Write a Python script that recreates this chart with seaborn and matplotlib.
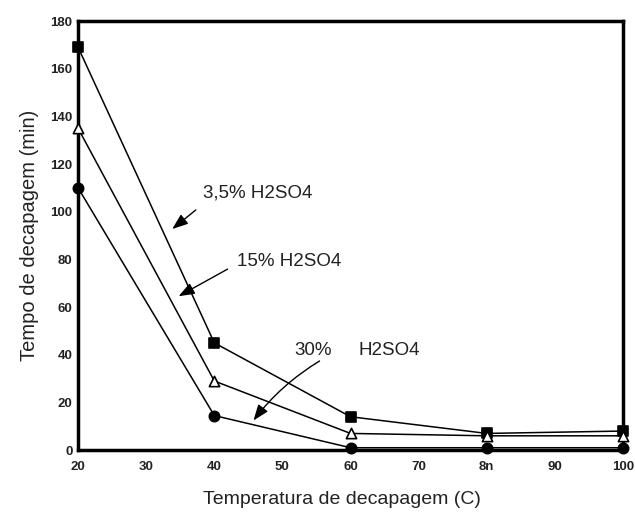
import matplotlib
matplotlib.use("Agg")
import matplotlib.pyplot as plt
import seaborn as sns
import pandas as pd

# data
temperatures = [20, 40, 60, 80, 100]
tempo_35 = [169, 45, 14, 7, 8]
tempo_15 = [135, 29, 7, 6, 6]
tempo_30 = [110, 14.5, 1, 1, 1]
series_names = ["3,5% H2SO4", "15% H2SO4", "30% H2SO4"]

x_ticks = [20, 30, 40, 50, 60, 70, 80, 90, 100]
x_tick_labels = ["20", "30", "40", "50", "60", "70", "8n", "90", "100"]
y_ticks = [0, 20, 40, 60, 80, 100, 120, 140, 160, 180]

df = pd.DataFrame({
    "temperatura": temperatures * 3,
    "tempo": tempo_35 + tempo_15 + tempo_30,
    "serie": [s for s in series_names for _ in temperatures],
})

sns.set_style("white")
plt.rcParams["font.family"] = ["Liberation Sans", "DejaVu Sans"]
txt_color = "#222222"

fig = plt.figure(figsize=(6.35, 5.15), dpi=100)
ax = fig.add_axes([0.123, 0.126, 0.858, 0.833])

markers = {"3,5% H2SO4": "s", "15% H2SO4": "^", "30% H2SO4": "o"}
for name in series_names:
    sub = df[df["serie"] == name]
    sns.lineplot(data=sub, x="temperatura", y="tempo", color="black",
                 linewidth=1.1, ax=ax, legend=False)
    face = "white" if markers[name] == "^" else "black"
    ax.scatter(sub["temperatura"], sub["tempo"], marker=markers[name],
               s=55, facecolor=face, edgecolor="black", linewidth=1.2,
               zorder=5, clip_on=False)

ax.set_xlim(20, 100)
ax.set_ylim(0, 180)
ax.set_xticks(x_ticks)
ax.set_xticklabels(x_tick_labels)
ax.set_yticks(y_ticks)
ax.tick_params(axis="both", labelsize=9.5, direction="in", length=5,
               width=1.2, color="black", labelcolor=txt_color)
ax.tick_params(axis="x", length=0, pad=8)
ax.tick_params(axis="y", pad=4)
for lab in ax.get_xticklabels() + ax.get_yticklabels():
    lab.set_fontweight("bold")

for sp in ax.spines.values():
    sp.set_visible(True)
    sp.set_color("black")
    sp.set_linewidth(2.5)

ax.set_xlabel("Temperatura de decapagem (C)", fontsize=14, labelpad=12,
              color=txt_color)
ax.xaxis.set_label_coords(0.485, -0.095)
ax.set_ylabel("Tempo de decapagem (min)", fontsize=14.5, labelpad=8,
              color=txt_color)

arrow = dict(arrowstyle="-|>,head_length=0.8,head_width=0.3", color="black",
             lw=1.0, mutation_scale=12)
ax.annotate("", xy=(33.5, 92), xytext=(37.6, 101.5), arrowprops=arrow)
ax.text(38.4, 108, "3,5% H2SO4", fontsize=13.5, va="center", ha="left",
        color=txt_color)

ax.annotate("", xy=(34.4, 64), xytext=(42.3, 76.5), arrowprops=arrow)
ax.text(43.3, 79, "15% H2SO4", fontsize=13.5, va="center", ha="left",
        color=txt_color)

ax.annotate("", xy=(45.5, 11.5), xytext=(55.8, 38),
            arrowprops=dict(arrow, connectionstyle="arc3,rad=0.1"))
ax.text(51.8, 42, "30%", fontsize=13.5, va="center", ha="left",
        color=txt_color)
ax.text(61.2, 42, "H2SO4", fontsize=13.5, va="center", ha="left",
        color=txt_color)

fig.savefig("out.png", dpi=100)
